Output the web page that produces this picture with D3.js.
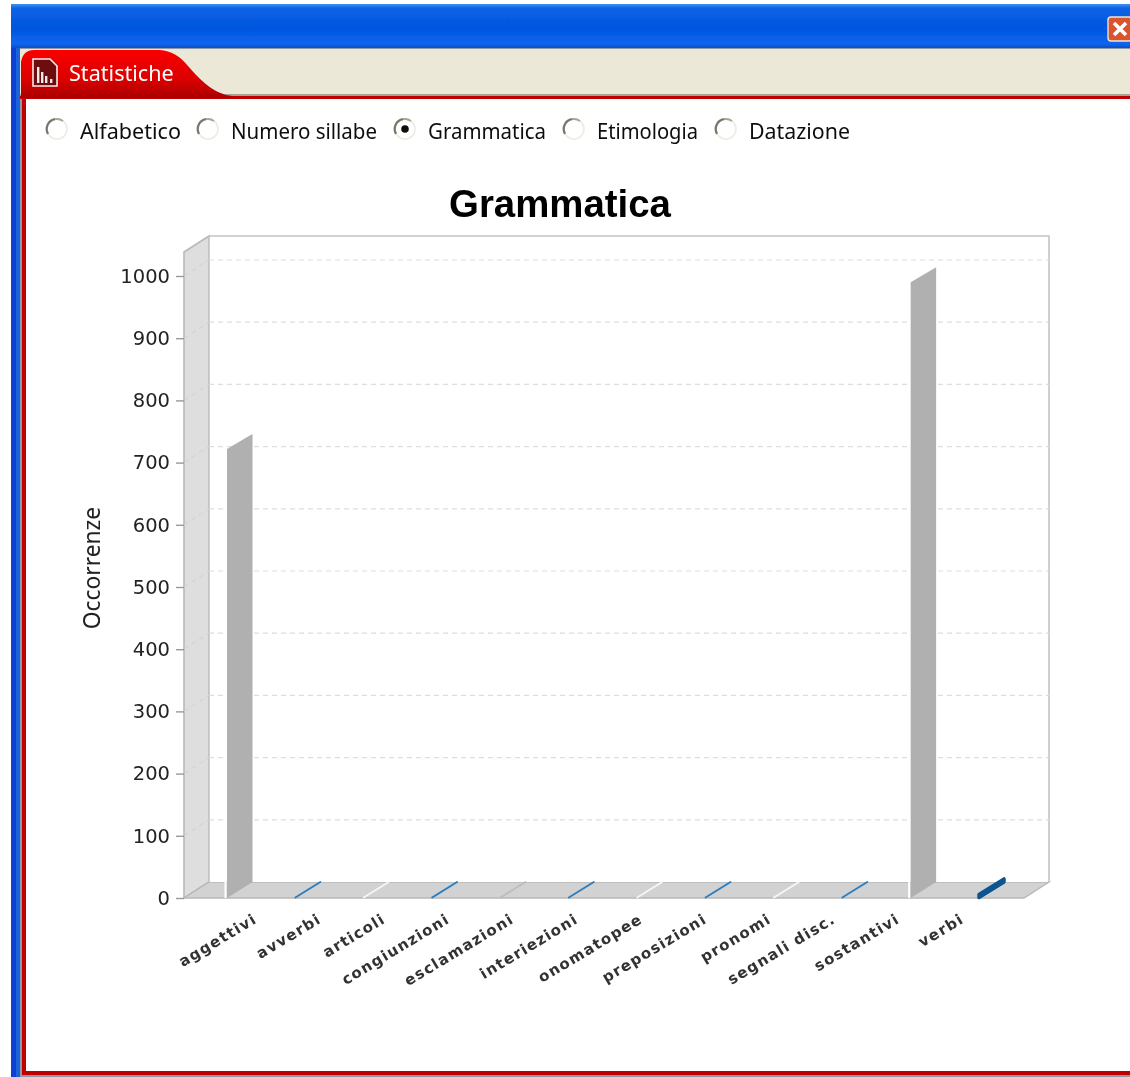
<!DOCTYPE html>
<html><head><meta charset="utf-8">
<script src="https://cdnjs.cloudflare.com/ajax/libs/d3/7.8.5/d3.min.js"></script>
<style>
html,body{margin:0;padding:0;background:#fff;overflow:hidden}
svg{display:block}
</style></head><body>
<svg id="c" width="1130" height="1077"></svg>
<script>
const categories=["aggettivi","avverbi","articoli","congiunzioni","esclamazioni","interiezioni","onomatopee","preposizioni","pronomi","segnali disc.","sostantivi","verbi"];
const values=[722,0,0,0,0,0,0,0,0,0,990,5];
const barColors=["#b0b0b0","#2a7dbe","#f6f6f6","#2a7dbe","#bdbdbd","#2a7dbe","#f6f6f6","#2a7dbe","#f6f6f6","#2a7dbe","#b0b0b0","#0b5590"];
const yTicks=[0,100,200,300,400,500,600,700,800,900,1000];
const radioLabels=["Alfabetico","Numero sillabe","Grammatica","Etimologia","Datazione"];
const radioX=[57,208,405,574,726];
const radioTextWidths=[101,146,118,101,101];
const selectedRadio="Grammatica";

const svg=d3.select("#c");
const sans="'Liberation Sans',Arial,sans-serif";
const ui="'Noto Sans','Open Sans',sans-serif";

const defs=svg.append("defs");
const tg=defs.append("linearGradient").attr("id","title").attr("x1",0).attr("x2",0).attr("y1",0).attr("y2",1);
[[0,"#3f92f0"],[.1,"#0a62e6"],[.55,"#0355de"],[.9,"#0a66f0"],[1,"#0a4fc4"]].forEach(d=>tg.append("stop").attr("offset",d[0]).attr("stop-color",d[1]));
const rg=defs.append("linearGradient").attr("id","tab").attr("x1",0).attr("x2",0).attr("y1",0).attr("y2",1);
[[0,"#f80000"],[.6,"#dd0000"],[1,"#a80000"]].forEach(d=>rg.append("stop").attr("offset",d[0]).attr("stop-color",d[1]));
const soft=(id,s)=>defs.append("filter").attr("id",id).attr("x","-5%").attr("y","-5%").attr("width","110%").attr("height","110%").append("feGaussianBlur").attr("stdDeviation",s);
soft("soft",0.45);
soft("softer",0.35);

const chrome=svg.append("g").attr("filter","url(#softer)");
chrome.append("rect").attr("x",11).attr("y",4).attr("width",1125).attr("height",1080).attr("fill","#0a3fd8");
chrome.append("rect").attr("x",11).attr("y",4).attr("width",1125).attr("height",44).attr("fill","url(#title)");
chrome.append("rect").attr("x",16).attr("y",48).attr("width",1120).attr("height",1036).attr("fill","#1f63d8");
chrome.append("rect").attr("x",20).attr("y",48).attr("width",1116).attr("height",1036).attr("fill","#8f9aa8");
chrome.append("rect").attr("x",22).attr("y",50).attr("width",1114).attr("height",1025).attr("fill","#c00000");
chrome.append("rect").attr("x",26).attr("y",99).attr("width",1110).attr("height",972).attr("fill","#fff");
chrome.append("rect").attr("x",20).attr("y",49).attr("width",1116).attr("height",47).attr("fill","#ebe8d8");
chrome.append("rect").attr("x",20).attr("y",94).attr("width",1116).attr("height",2).attr("fill","#a8a290");
chrome.append("rect").attr("x",20).attr("y",96).attr("width",1116).attr("height",3).attr("fill","#c00000");
chrome.append("path").attr("d","M21 98 L21 62 Q23 50 34 50 L160 50 Q176 51 188 66 Q205 86 218 92 Q224 95 232 96 L232 98 Z").attr("fill","url(#tab)");
chrome.append("path").attr("d","M33 59 L50 59 L57 66 L57 86 L33 86 Z").attr("fill","#6e0808").attr("stroke","#f2eeee").attr("stroke-width",1.6);
[[37,67],[41,72],[45,76],[50,79]].forEach(d=>chrome.append("rect").attr("x",d[0]).attr("y",d[1]).attr("width",2.4).attr("height",83-d[1]).attr("fill","#f5e9e9"));
chrome.append("text").attr("x",69).attr("y",81).attr("font-family",ui).attr("font-size",21.6).attr("fill","#fff").text("Statistiche");
chrome.append("rect").attr("x",1108).attr("y",17).attr("width",24).attr("height",24).attr("rx",3).attr("fill","#d9552f").attr("stroke","#f3e2da").attr("stroke-width",1.4);
chrome.append("path").attr("d","M1114 23 L1126 35 M1126 23 L1114 35").attr("stroke","#fff").attr("stroke-width",3.6);

const radios=svg.append("g").attr("filter","url(#softer)").selectAll("g").data(radioLabels).join("g").attr("transform",(d,i)=>`translate(${radioX[i]},129)`);
radios.append("circle").attr("r",10).attr("fill","#fff").attr("stroke","#eeece2").attr("stroke-width",1.6);
radios.append("path").attr("d","M-9 5 A10 10 0 0 1 -2 -9.8").attr("fill","none").attr("stroke","#77776c").attr("stroke-width",2.2);
radios.append("path").attr("d","M-2 -9.8 A10 10 0 0 1 6 -8").attr("fill","none").attr("stroke","#a5a598").attr("stroke-width",1.8);
radios.filter(d=>d===selectedRadio).append("circle").attr("r",3.8).attr("fill","#111");
radios.append("text").attr("x",23).attr("y",9.5).attr("font-family",ui).attr("font-size",21)
  .attr("textLength",(d,i)=>radioTextWidths[i]).attr("lengthAdjust","spacingAndGlyphs").attr("fill","#111").text(d=>d);

const depthX=25, depthY=16;
const y=d3.scaleLinear().domain([0,1000]).range([898,276]);
const x=d3.scalePoint().domain(categories).range([227,979]);
const labelX=d3.scalePoint().domain(categories).range([258,965]);
const plotLeft=184, plotRight=1024, plotTop=252;

const chart=svg.append("g").attr("filter","url(#soft)");
chart.append("text").attr("x",560).attr("y",217).attr("text-anchor","middle").attr("font-family",sans).attr("font-weight","bold").attr("font-size",38.4).attr("fill","#000").text("Grammatica");

chart.append("path").attr("d",`M${plotLeft} ${y(0)} L${plotLeft} ${plotTop} L${plotLeft+depthX} ${plotTop-depthY} L${plotLeft+depthX} ${y(0)-depthY} Z`).attr("fill","#dedede").attr("stroke","#b8b8b8").attr("stroke-width",1.6);
chart.append("path").attr("d",`M${plotLeft} ${y(0)} L${plotRight} ${y(0)} L${plotRight+depthX} ${y(0)-depthY} L${plotLeft+depthX} ${y(0)-depthY} Z`).attr("fill","#d2d2d2").attr("stroke","#b8b8b8").attr("stroke-width",1.4);
chart.append("path").attr("d",`M${plotLeft+depthX} ${y(0)-depthY} L${plotLeft+depthX} ${plotTop-depthY} L${plotRight+depthX} ${plotTop-depthY} L${plotRight+depthX} ${y(0)-depthY}`).attr("fill","#fff").attr("stroke","#c4c4c4").attr("stroke-width",1.6);

const gridTicks=yTicks.filter(d=>d>0);
chart.append("g").selectAll("line").data(gridTicks).join("line")
  .attr("x1",plotLeft+depthX).attr("x2",plotRight+depthX).attr("y1",d=>y(d)-depthY).attr("y2",d=>y(d)-depthY)
  .attr("stroke","#dedede").attr("stroke-width",1.2).attr("stroke-dasharray","5 4");
chart.append("g").selectAll("line").data(gridTicks).join("line")
  .attr("x1",plotLeft).attr("x2",plotLeft+depthX).attr("y1",d=>y(d)).attr("y2",d=>y(d)-depthY)
  .attr("stroke","#d0d0d0").attr("stroke-width",1).attr("stroke-dasharray","5 4");

const yAxis=d3.axisLeft(y).tickValues(yTicks).tickFormat(d3.format("d")).tickSize(8).tickPadding(6);
const ga=chart.append("g").attr("transform",`translate(${plotLeft},0)`).call(yAxis);
ga.select(".domain").remove();
ga.selectAll("line").attr("stroke","#999").attr("stroke-width",1.4);
ga.selectAll("text").attr("font-family","'DejaVu Sans',sans-serif").attr("font-size",19.5).attr("fill","#222");
chart.append("text").attr("transform","translate(100,568) rotate(-90)").attr("text-anchor","middle").attr("font-family",ui).attr("font-size",22.8).attr("fill","#222").text("Occorrenze");

const bars=chart.append("g").selectAll("g").data(categories).join("g");
bars.each(function(c,i){
  const v=values[i],g=d3.select(this),x0=x(c),y0=y(0),y1=y(v),col=barColors[i];
  if(v>50){
    g.append("path").attr("d",`M${x0} ${y0} L${x0} ${y1} L${x0+depthX+.5} ${y1-depthY+1} L${x0+depthX+.5} ${y0-depthY} Z`).attr("fill",col);
    g.append("line").attr("x1",x0-1.5).attr("x2",x0-1.5).attr("y1",y0).attr("y2",y1).attr("stroke","#fff").attr("stroke-width",2);
  } else {
    const w=v>0?3.5:1.8;
    g.append("path").attr("d",`M${x0} ${y0-.5} L${x0} ${y1-.5} L${x0+depthX} ${y1-depthY} L${x0+depthX} ${y0-depthY} Z`).attr("fill",col).attr("stroke",col).attr("stroke-width",w).attr("stroke-linejoin","round");
  }
});

chart.append("g").selectAll("text").data(categories).join("text")
  .attr("transform",c=>`translate(${labelX(c)},922) rotate(-31)`)
  .attr("text-anchor","end").attr("font-family","'DejaVu Sans',sans-serif").attr("font-weight","bold").attr("font-size",15).attr("fill","#333").attr("letter-spacing",1.3).text(c=>c);
</script></body></html>
